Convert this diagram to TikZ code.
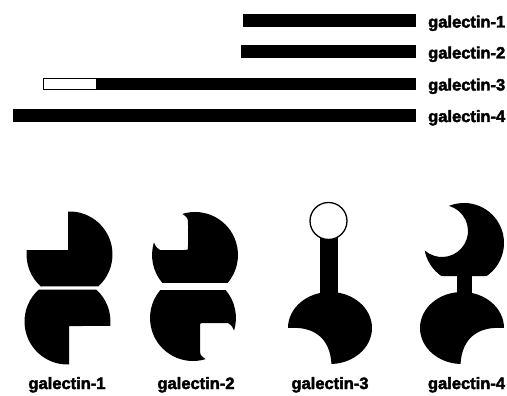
\documentclass[tikz,border=0pt]{standalone}
\usepackage{fontspec}
\usepackage{tikz}
\newfontfamily\galfont{Liberation Sans}[BoldFeatures={FakeBold=2.5}]

\tikzset{
  lbl/.style={font=\galfont\bfseries\fontsize{16.5}{16.5}\selectfont,inner sep=0pt},
  pics/sqcrd/.style={code={
    \fill (-1.5,4.5) -- (-1.5,43) arc[start angle=92,end angle=-48.1,radius=43]
      -- (-28.7,-32) arc[start angle=-131.9,end angle=-186,radius=43] -- cycle;
  }},
  pics/hookcrd/.style={code={
    \fill (107:43) arc[start angle=107,end angle=-40.6,radius=43]
      -- (-32.6,-28) arc[start angle=-139.4,end angle=-197,radius=43]
      .. controls (-39,8) .. (-35,5) -- (-11,5) .. controls (-7,5) .. (-7,9)
      -- (-7,30) .. controls (-7,37) .. (107:43) -- cycle;
  }},
  pics/bitecrd/.style={code={
    \fill (180:42 and 36) arc[start angle=180,end angle=-88,x radius=42,y radius=36]
      .. controls (0,-10) and (-16,2) .. (180:42 and 36) -- cycle;
  }}
}

\begin{document}
\begin{tikzpicture}[x=1pt,y=1pt]
\useasboundingbox (0,0) rectangle (507,-396);

\fill (242.7,-14) rectangle (415.7,-27.3);
\fill (241.3,-45.3) rectangle (415.7,-58.3);
\fill (96,-78) rectangle (415.7,-90);
\draw[line width=1.3pt,fill=white] (43.4,-78.7) rectangle (96.7,-89.3);
\fill (12.7,-108.7) rectangle (415.7,-122);

\node(t1) at (428,-27.5)[lbl,anchor=base west] {galectin-1};
\node(t2) at (428,-58.5)[lbl,anchor=base west] {galectin-2};
\node(t3) at (428,-90.5)[lbl,anchor=base west] {galectin-3};
\node(t4) at (428,-122)[lbl,anchor=base west] {galectin-4};

\pic at (69.5,-254.5) {sqcrd};
\pic[rotate=180] at (67.5,-321.5) {sqcrd};

\pic at (195,-255) {hookcrd};
\pic[rotate=180] at (193,-318) {hookcrd};

\fill (320,-232) rectangle (338,-300);
\draw[line width=1.3pt,fill=white] (328.5,-221) circle (18.5);
\pic at (330,-328) {bitecrd};

\fill (457,-270) rectangle (472,-298);
\fill[shift={(464,-243)}] (112:40) arc[start angle=112,end angle=-55.6,radius=40]
  -- ++(-45.2,0) arc[start angle=-124.4,end angle=-169.3,radius=40]
  arc[start angle=228.3,end angle=434.4,radius=26] -- cycle;
\pic[xscale=-1] at (462,-328) {bitecrd};

\node(b1) at (67,-389)[lbl,anchor=base] {galectin-1};
\node(b2) at (196,-389)[lbl,anchor=base] {galectin-2};
\node(b3) at (330,-389)[lbl,anchor=base] {galectin-3};
\node(b4) at (466.5,-389)[lbl,anchor=base] {galectin-4};
\end{tikzpicture}
\end{document}
